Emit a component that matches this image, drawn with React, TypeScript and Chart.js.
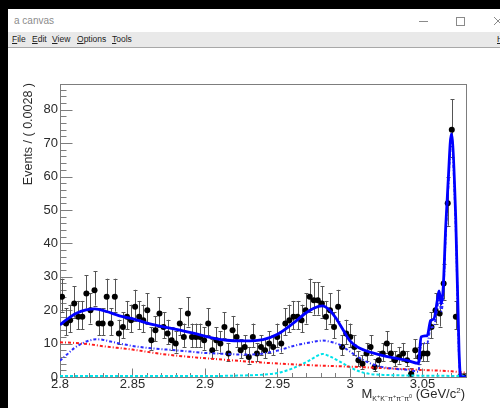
import React, { useEffect, useRef } from "react";
import { Chart, registerables } from "chart.js";

Chart.register(...registerables);

// Binning of the invariant-mass histogram
const binLow = 2.8;
const binWidth = 0.0028;

// Events per bin
const counts = [
  24, 16, 17, 22, 18, 18, 25, 20, 26, 16,
  16, 24, 16, 24, 13, 15, 18, 17, 21, 18,
  17, 20, 11, 14, 19, 15, 13, 11, 10, 16,
  12, 19, 12, 12, 12, 11, 16, 8, 11, 10,
  15, 7, 14, 12, 8, 9, 6, 12, 7, 9,
  8, 10, 9, 12, 10, 16, 17, 18, 18, 17,
  20, 24, 23, 23, 22, 18, 20, 15, 21, 9,
  13, 12, 9, 5, 4, 7, 9, 3, 5, 7,
  10, 7, 5, 6, 7, 5, 1, 8, 6, 7,
  7, 15, 20, 19, 28, 52, 74, 18, 0, 0,
];

// Axis ticks
const xTickValues = [2.8, 2.85, 2.9, 2.95, 3.0, 3.05];
const xTickLabels = ["2.8", "2.85", "2.9", "2.95", "3", "3.05"];
const yTickValues = [0, 10, 20, 30, 40, 50, 60, 70, 80];
const yTickLabels = ["0", "10", "20", "30", "40", "50", "60", "70", "80"];

// Total fit (solid blue)
const totalFitX = [
  2.8, 2.805, 2.811, 2.818, 2.824, 2.832, 2.841, 2.851, 2.862, 2.874,
  2.892, 2.904, 2.915, 2.927, 2.94, 2.95, 2.96, 2.97, 2.975, 2.981,
  2.986, 2.99, 2.995, 3.0, 3.005, 3.01, 3.015, 3.02, 3.03, 3.04,
  3.0472, 3.049, 3.0533, 3.0556, 3.0579, 3.0602, 3.0614, 3.063, 3.0643, 3.066,
  3.0676, 3.0699, 3.0729, 3.0752, 3.0763, 3.08,
];
const totalFitY = [
  15.6, 17.3, 19.0, 20.1, 20.4, 19.6, 18.3, 17.3, 15.9, 14.8,
  13.1, 11.8, 11.0, 10.8, 11.2, 12.8, 15.8, 19.3, 20.6, 21.3,
  20.0, 17.8, 14.3, 10.8, 9.0, 8.0, 7.3, 6.7, 5.7, 4.9,
  4.1, 12.0, 12.4, 16.9, 17.4, 22.9, 25.8, 21.9, 26.8, 44.8,
  57.8, 72.8, 47.8, 7.9, 0, 0,
];

// Main component (blue dash-dot)
const mainCompX = [
  2.8, 2.805, 2.81, 2.815, 2.82, 2.825, 2.83, 2.835, 2.85, 2.865,
  2.88, 2.89, 2.9, 2.915, 2.927, 2.938, 2.95, 2.961, 2.973, 2.981,
  2.986, 2.993, 3.0, 3.007, 3.014, 3.021, 3.028, 3.035, 3.041, 3.0472,
  3.049, 3.0533, 3.0556, 3.0579, 3.0602, 3.0614, 3.063, 3.0643, 3.066, 3.0676,
  3.0699, 3.0729, 3.0752, 3.0763, 3.08,
];
const mainCompY = [
  4.9, 6.8, 8.7, 10.0, 10.9, 11.3, 11.1, 10.6, 9.3, 8.5,
  8.0, 7.6, 7.2, 6.9, 6.7, 6.9, 7.9, 9.3, 10.4, 10.9,
  10.6, 9.6, 7.6, 5.6, 4.1, 3.1, 2.6, 2.3, 2.1, 1.6,
  9.8, 10.2, 14.7, 15.2, 20.7, 23.6, 19.7, 24.6, 42.6, 55.6,
  70.6, 45.6, 6.0, 0, 0,
];

// Smooth background (red dotted)
const bkgX = [2.8, 2.81, 2.82, 2.83, 2.85, 2.87, 2.89, 2.915, 2.94, 2.96, 2.98, 3.0, 3.025, 3.05, 3.07, 3.08];
const bkgY = [10.4, 10.2, 9.8, 9.2, 8.2, 6.9, 6.0, 5.1, 4.3, 3.8, 3.4, 3.1, 2.6, 2.1, 1.7, 1.3];

// Narrow peaking component (cyan dotted)
const peakCompX = [2.8, 2.9, 2.93, 2.94, 2.95, 2.96, 2.97, 2.976, 2.981, 2.986, 2.993, 3.0, 3.007, 3.014, 3.025, 3.05, 3.08];
const peakCompY = [0.3, 0.3, 0.5, 0.7, 1.2, 2.5, 4.5, 6.0, 6.9, 6.2, 4.6, 2.9, 1.6, 0.9, 0.6, 0.4, 0.3];

const FONT = '"Liberation Sans", Arial, Helvetica, sans-serif';

const zip = (xs: number[], ys: number[]) => xs.map((x, i) => ({ x, y: ys[i] }));

// Asymmetric Poisson-style error for a count
function poissonErr(n: number): [number, number] {
  if (n <= 0) return [0, 1.15];
  const s = Math.sqrt(n + 0.25);
  return [s - 0.5, s + 0.5];
}

const rootFrame = {
  id: "rootFrame",
  beforeDatasetsDraw(chart: any) {
    const { ctx, chartArea: a } = chart;
    const xs = chart.scales.x;
    const ys = chart.scales.y;
    const L = Math.round(a.left) + 0.5;
    const R = Math.round(a.right) + 0.5;
    const T = Math.round(a.top) + 0.5;
    const B = Math.round(a.bottom) + 0.5;
    ctx.save();
    ctx.strokeStyle = "#7d7d7d";
    ctx.lineWidth = 1;
    ctx.strokeRect(L, T, R - L, B - T);
    ctx.beginPath();
    for (let k = 0; k <= 28; k++) {
      const px = Math.round(xs.getPixelForValue(2.8 + k * 0.01)) + 0.5;
      const len = k % 5 === 0 ? 9 : 4.5;
      ctx.moveTo(px, B);
      ctx.lineTo(px, B - len);
    }
    for (let k = 0; k <= 43; k++) {
      const py = Math.round(ys.getPixelForValue(k * 2)) + 0.5;
      const len = k % 5 === 0 ? 12 : 6;
      ctx.moveTo(L, py);
      ctx.lineTo(L + len, py);
    }
    ctx.stroke();

    // error bars of the data points
    ctx.strokeStyle = "#555555";
    ctx.beginPath();
    counts.forEach((n, i) => {
      const [lo, hi] = poissonErr(n);
      const px = Math.round(xs.getPixelForValue(binLow + (i + 0.5) * binWidth)) + 0.5;
      const top = ys.getPixelForValue(n + hi);
      const bot = ys.getPixelForValue(Math.max(n - lo, 0));
      ctx.moveTo(px, top);
      ctx.lineTo(px, bot);
      ctx.moveTo(px - 2, Math.round(top) + 0.5);
      ctx.lineTo(px + 2, Math.round(top) + 0.5);
      if (n > 0) {
        ctx.moveTo(px - 2, Math.round(bot) + 0.5);
        ctx.lineTo(px + 2, Math.round(bot) + 0.5);
      }
    });
    ctx.stroke();
    ctx.restore();
  },
};

function FitChart() {
  const ref = useRef<HTMLCanvasElement>(null);
  useEffect(() => {
    const dataPts = counts.map((n, i) => ({ x: binLow + (i + 0.5) * binWidth, y: n }));
    const curve = (data: any[], color: string, width: number, dash: number[], order: number) => ({
      type: "line" as const,
      data,
      borderColor: color,
      borderWidth: width,
      borderDash: dash,
      pointRadius: 0,
      showLine: true,
      fill: false,
      cubicInterpolationMode: "monotone" as const,
      order,
    });
    const chart = new Chart(ref.current!, {
      type: "scatter",
      data: {
        datasets: [
          curve(zip(totalFitX, totalFitY), "#0000ff", 2.8, [], 0),
          curve(zip(mainCompX, mainCompY), "#2b2bff", 2, [3, 2, 1, 2], 1),
          curve(zip(bkgX, bkgY), "#ff1a1a", 2, [3, 2, 1, 2], 2),
          curve(zip(peakCompX, peakCompY), "#00e3ea", 2, [3, 2], 3),
          {
            type: "scatter" as const,
            data: dataPts,
            pointRadius: 3,
            pointBackgroundColor: "#000",
            pointBorderColor: "#000",
            pointBorderWidth: 0,
            showLine: false,
            order: 10,
          } as any,
        ],
      },
      options: {
        animation: false,
        responsive: false,
        devicePixelRatio: 1,
        events: [],
        layout: { padding: { left: 0, top: 36, right: 34, bottom: 0 } },
        plugins: { legend: { display: false }, tooltip: { enabled: false } },
        scales: {
          x: {
            type: "linear",
            min: 2.8,
            max: 3.08,
            grid: { display: false, drawTicks: false },
            border: { display: false },
            afterFit: (s: any) => {
              s.height = 31;
            },
            afterBuildTicks: (s: any) => {
              s.ticks = xTickValues.map((v) => ({ value: v }));
            },
            ticks: {
              padding: 0,
              maxRotation: 0,
              autoSkip: false,
              color: "#2a2a2a",
              font: { family: FONT, size: 13 },
              callback: (v: any) => {
                const i = xTickValues.findIndex((t) => Math.abs(t - Number(v)) < 1e-6);
                return i >= 0 ? xTickLabels[i] : "";
              },
            },
          },
          y: {
            type: "linear",
            min: 0,
            max: 87.7,
            grid: { display: false, drawTicks: false },
            border: { display: false },
            afterFit: (s: any) => {
              s.width = 52;
            },
            afterBuildTicks: (s: any) => {
              s.ticks = yTickValues.map((v) => ({ value: v }));
            },
            ticks: {
              padding: 2,
              autoSkip: false,
              color: "#2a2a2a",
              font: { family: FONT, size: 13 },
              callback: (v: any) => {
                const i = yTickValues.indexOf(Number(v));
                return i >= 0 ? yTickLabels[i] : "";
              },
            },
          },
        },
      } as any,
      plugins: [rootFrame],
    });
    return () => chart.destroy();
  }, []);
  return (
    <canvas
      ref={ref}
      width={492}
      height={360}
      style={{ position: "absolute", left: 8, top: 48, width: 492, height: 360 }}
    />
  );
}

const menuItems = ["File", "Edit", "View", "Options", "Tools", "Help"];
const menuLeft = [12, 32, 52, 77, 112, 497];

const sup = (t: string) => (
  <span style={{ fontSize: 5.5, verticalAlign: 3, lineHeight: 0 }}>{t}</span>
);

export default function App() {
  return (
    <div
      style={{
        position: "fixed",
        left: 0,
        top: 0,
        width: 500,
        height: 408,
        background: "#000",
        overflow: "hidden",
        fontFamily: FONT,
      }}
    >
      {/* window */}
      <div style={{ position: "absolute", left: 8, top: 9, width: 500, height: 400, background: "#fff" }} />
      <div style={{ position: "absolute", left: 14, top: 15, fontSize: 10, lineHeight: "12px", color: "#8c8c8c" }}>
        a canvas
      </div>
      <svg style={{ position: "absolute", left: 410, top: 10, width: 90, height: 22 }}>
        <line x1={9} y1={11.5} x2={18} y2={11.5} stroke="#8a8a8a" strokeWidth={1} />
        <rect x={46.5} y={7.5} width={8} height={8} fill="none" stroke="#8a8a8a" strokeWidth={1} />
        <line x1={84} y1={7} x2={92} y2={15} stroke="#8a8a8a" strokeWidth={1} />
        <line x1={84} y1={15} x2={92} y2={7} stroke="#8a8a8a" strokeWidth={1} />
      </svg>
      <div
        style={{
          position: "absolute",
          left: 8,
          top: 32,
          width: 500,
          height: 15,
          background: "#e9e9e9",
          borderBottom: "1px solid #a8a8a8",
        }}
      />
      {menuItems.map((m, i) => (
        <div
          key={m}
          style={{
            position: "absolute",
            left: menuLeft[i],
            top: 34,
            fontSize: 8.5,
            lineHeight: "10px",
            color: "#222",
            whiteSpace: "nowrap",
          }}
        >
          <u>{m[0]}</u>
          {m.slice(1)}
        </div>
      ))}

      <FitChart />

      {/* axis titles */}
      <div
        style={{
          position: "absolute",
          left: -72,
          top: 175,
          width: 200,
          height: 16,
          lineHeight: "16px",
          fontSize: 12.5,
          color: "#2a2a2a",
          textAlign: "right",
          whiteSpace: "nowrap",
          transform: "rotate(-90deg)",
        }}
      >
        Events / ( 0.0028 )
      </div>
      <div
        style={{
          position: "absolute",
          right: 35,
          top: 386,
          fontSize: 13,
          lineHeight: "15px",
          color: "#2a2a2a",
          whiteSpace: "nowrap",
        }}
      >
        M
        <span style={{ fontSize: 7, verticalAlign: -3, lineHeight: 0 }}>
          K{sup("+")}K{sup("−")}π{sup("+")}π{sup("−")}π{sup("0")}
        </span>{" "}
        (GeV/c<span style={{ fontSize: 8, verticalAlign: 5, lineHeight: 0 }}>2</span>)
      </div>
    </div>
  );
}
